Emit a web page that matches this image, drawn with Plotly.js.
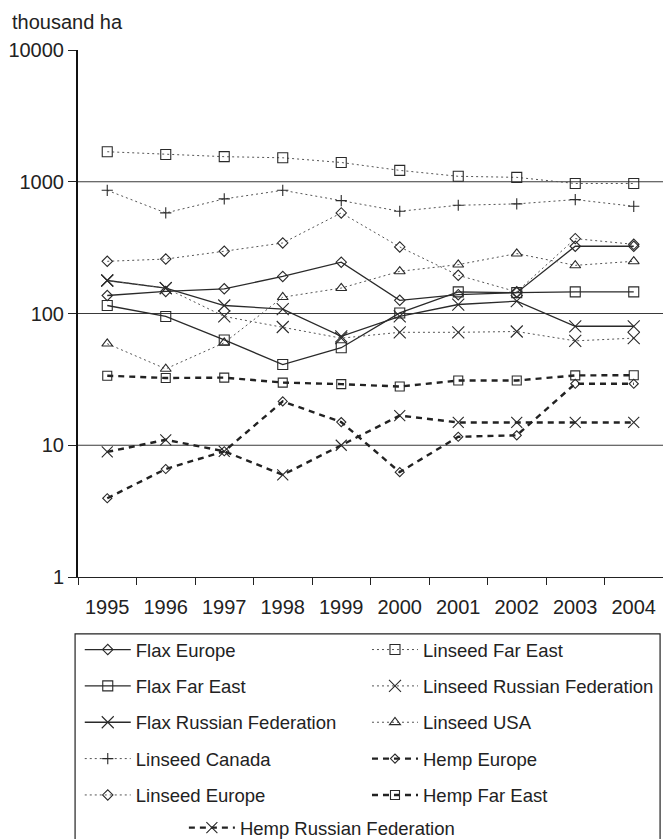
<!DOCTYPE html>
<html>
<head>
<meta charset="utf-8">
<script src="https://cdn.plot.ly/plotly-3.0.1.min.js"></script>
<style>html,body{margin:0;padding:0;background:#fff;}#chart{width:663px;height:839px;}</style>
</head>
<body>
<div id="chart"></div>
<script>
const years = ['1995','1996','1997','1998','1999','2000','2001','2002','2003','2004'];
const yTickVals = [1, 10, 100, 1000, 10000];
const yTickText = ['1', '10', '100', '1000', '10000'];
const gridVals = [10, 100, 1000];

const flaxEurope = [137, 147, 154, 191, 245, 126, 139, 144, 324, 324];
const flaxFarEast = [115, 95, 63, 41, 55, 101, 146, 144, 146, 146];
const flaxRussia = [178, 156, 115, 108, 67, 95, 117, 124, 80, 80];
const linseedCanada = [861, 580, 741, 861, 719, 597, 663, 679, 732, 651];
const linseedEurope = [249, 259, 297, 343, 580, 320, 195, 146, 370, 335];
const linseedFarEast = [1690, 1610, 1550, 1520, 1400, 1220, 1100, 1080, 970, 970];
const linseedRussia = [178, 156, 95, 79, 65, 72, 72, 73, 62, 65];
const linseedUSA = [59, 38, 60, 133, 156, 209, 235, 285, 232, 249];
const hempEurope = [3.96, 6.6, 9.0, 21.5, 15, 6.25, 11.6, 11.9, 29.3, 29.3];
const hempFarEast = [33.7, 32.4, 32.6, 29.9, 29.1, 27.9, 31, 31, 33.9, 34];
const hempRussia = [8.9, 11, 9.0, 5.96, 10, 16.8, 14.9, 14.9, 14.9, 14.9];

const C = '#2a2a2a';
const styles = {
  flax: {color: C, width: 1.3, dash: 'solid'},
  linseed: {color: '#555', width: 1, dash: '2px,3px'},
  hemp: {color: '#222', width: 2.4, dash: '6px,5px'}
};
function mk(symbol, size) {
  return {symbol: symbol, size: size, color: C, line: {color: C, width: 1.1}};
}
function tr(name, y, kind, symbol, size, legend, rank) {
  return {
    type: 'scatter', mode: 'lines+markers', name: name, x: years, y: y,
    line: styles[kind], marker: mk(symbol, size),
    legend: legend, legendgroup: name, legendrank: rank, cliponaxis: false
  };
}
const traces = [
  tr('Flax Europe', flaxEurope, 'flax', 'diamond-open', 8, 'legend', 1),
  tr('Flax Far East', flaxFarEast, 'flax', 'square-open', 10, 'legend', 2),
  tr('Flax Russian Federation', flaxRussia, 'flax', 'x-thin-open', 12, 'legend', 3),
  tr('Linseed Canada', linseedCanada, 'linseed', 'cross-thin-open', 8, 'legend', 4),
  tr('Linseed Europe', linseedEurope, 'linseed', 'diamond-open', 8, 'legend', 5),
  tr('Linseed Far East', linseedFarEast, 'linseed', 'square-open', 10, 'legend2', 1),
  tr('Linseed Russian Federation', linseedRussia, 'linseed', 'x-thin-open', 12, 'legend2', 2),
  tr('Linseed USA', linseedUSA, 'linseed', 'triangle-up-open', 9.5, 'legend2', 3),
  tr('Hemp Europe', hempEurope, 'hemp', 'diamond-open', 7, 'legend2', 4),
  tr('Hemp Far East', hempFarEast, 'hemp', 'square-open', 9, 'legend2', 5),
  tr('Hemp Russian Federation', hempRussia, 'hemp', 'x-thin-open', 11, 'legend3', 1)
];

const family = 'Liberation Sans, Arial, sans-serif';
const tickFont = {family: family, size: 20, color: '#222'};
const legFont = {family: family, size: 18.5, color: '#222'};
const legBase = {
  orientation: 'v', font: legFont, bgcolor: 'rgba(0,0,0,0)', borderwidth: 0,
  tracegroupgap: 9.3, itemwidth: 46, yanchor: 'top', xanchor: 'left', itemclick: false
};
const shapes = gridVals.map(v => ({
  type: 'line', xref: 'paper', x0: 0, x1: 1, yref: 'y', y0: v, y1: v,
  line: {color: '#3a3a3a', width: 1.2}, layer: 'below'
}));
shapes.push({
  type: 'rect', xref: 'paper', yref: 'paper', x0: -0.005, x1: 0.995, y0: -0.108, y1: -0.52,
  line: {color: '#222', width: 1.2}, fillcolor: 'rgba(0,0,0,0)'
});

const layout = {
  width: 663, height: 839,
  margin: {l: 78, r: 0, t: 50, b: 262, autoexpand: false},
  paper_bgcolor: '#fff', plot_bgcolor: '#fff',
  font: tickFont,
  showlegend: true,
  xaxis: {
    type: 'category', range: [-0.5, 9.5], tickson: 'boundaries',
    ticks: 'outside', ticklen: 7, tickcolor: '#222', tickwidth: 1,
    showline: true, linecolor: '#222', linewidth: 1.2, showgrid: false, zeroline: false,
    ticklabelstandoff: 12, tickfont: tickFont, fixedrange: true
  },
  yaxis: {
    type: 'log', range: [0, 4], tickvals: yTickVals, ticktext: yTickText,
    ticks: 'outside', ticklen: 8, tickcolor: '#222', tickwidth: 1,
    showline: true, linecolor: '#111', linewidth: 2, showgrid: false, zeroline: false,
    tickfont: tickFont, fixedrange: true
  },
  legend: Object.assign({}, legBase, {x: 0.003, y: -0.1025}),
  legend2: Object.assign({}, legBase, {x: 0.494, y: -0.1025}),
  legend3: Object.assign({}, legBase, {x: 0.181, y: -0.4405}),
  shapes: shapes,
  annotations: [{
    text: 'thousand ha', xref: 'paper', yref: 'paper', x: -0.116, y: 1.054,
    xanchor: 'left', yanchor: 'middle', showarrow: false, font: {family: family, size: 20, color: '#222'}
  }]
};
Plotly.newPlot('chart', traces, layout, {displayModeBar: false, staticPlot: true});
</script>
</body>
</html>
